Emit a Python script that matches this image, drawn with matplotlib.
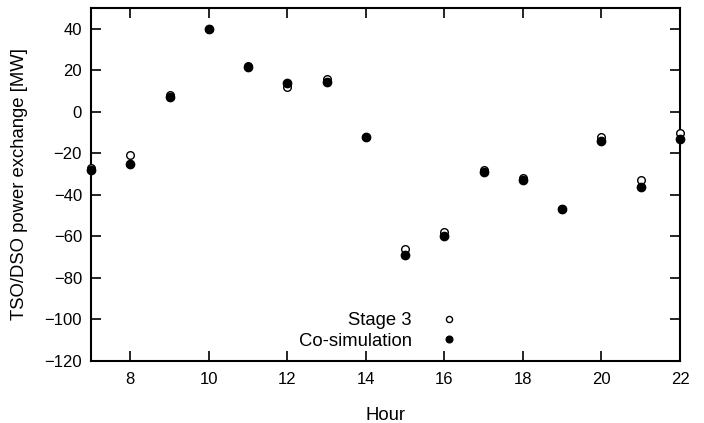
import numpy as np
import matplotlib.pyplot as plt

plt.rcParams['font.family'] = ['Liberation Sans', 'DejaVu Sans']

hours = [7, 8, 9, 10, 11, 12, 13, 14, 15, 16, 17, 18, 19, 20, 21, 22]
stage3 = [-27, -21, 8, 40, 22, 12, 16, -12, -66, -58, -28, -32, -47, -12, -33, -10]
cosim = [-28, -25, 7, 40, 21.5, 14, 14.5, -12, -69, -60, -29, -33, -47, -14, -36, -13]

fig = plt.figure(figsize=(7.04, 4.23), dpi=100)
ax = fig.add_axes([91 / 704, 1 - 361 / 423, 589 / 704, 353 / 423])

ax.plot(hours, stage3, 'o', mfc='white', mec='black', mew=1.0, ms=5.5,
        label='Stage 3', clip_on=False, zorder=3)
ax.plot(hours, cosim, 'o', color='black', ms=6,
        label='Co-simulation', clip_on=False, zorder=4)

ax.set_xlim(7, 22)
ax.set_ylim(-120, 50)
ax.set_xticks(np.arange(8, 23, 2))
ax.set_yticks(np.arange(-120, 41, 20))
ax.tick_params(direction='in', length=7, width=1.2, top=True, right=True,
               labelsize=12)
ax.tick_params(axis='x', pad=8)
ax.tick_params(axis='y', pad=6.5)
for s in ax.spines.values():
    s.set_linewidth(1.5)

ax.set_xlabel('Hour', fontsize=13.3)
ax.set_ylabel('TSO/DSO power exchange [MW]', fontsize=13.3)
ax.xaxis.set_label_coords(0.5, -0.13)
ax.yaxis.set_label_coords(-0.107, 0.5)

ax.legend(loc='center', bbox_to_anchor=(0.496, 0.085), frameon=False,
          markerfirst=False, handletextpad=1.0, labelspacing=0.2,
          markerscale=0.8, fontsize=13.3)

fig.savefig('out.png', dpi=100)
